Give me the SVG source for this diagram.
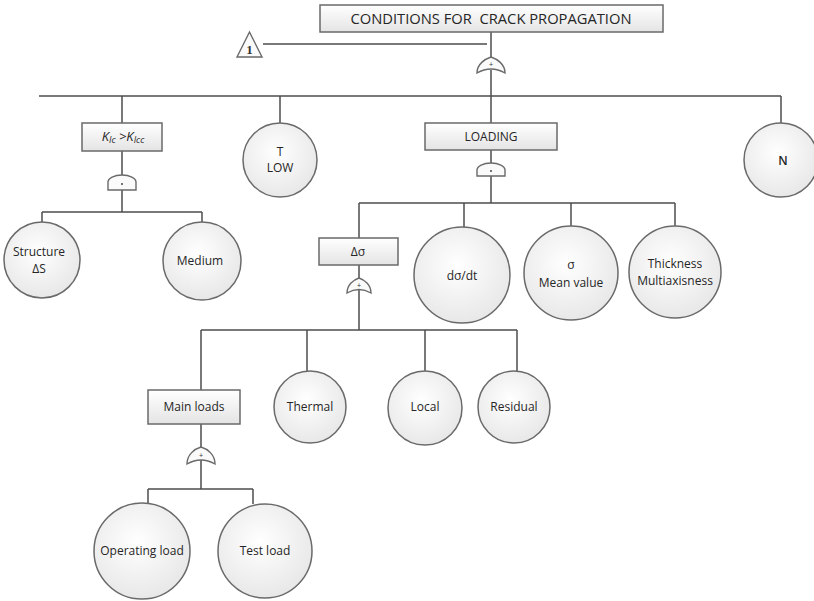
<svg xmlns="http://www.w3.org/2000/svg" width="814" height="601" viewBox="0 0 814 601">
<defs>
<linearGradient id="boxg" x1="0" y1="0" x2="0" y2="1">
<stop offset="0" stop-color="#ffffff"/><stop offset="1" stop-color="#e4e4e4"/>
</linearGradient>
<radialGradient id="circg" cx="0.45" cy="0.4" r="0.65">
<stop offset="0" stop-color="#ffffff"/><stop offset="1" stop-color="#e6e6e6"/>
</radialGradient>
<style>
.box{fill:url(#boxg);stroke:#6a6a6a;stroke-width:1.5}
.circ{fill:url(#circg);stroke:#6a6a6a;stroke-width:1.5}
.gate{fill:#fafafa;stroke:#6a6a6a;stroke-width:1.4}
.con{fill:none;stroke:#4d4d4d;stroke-width:1.5}
.t{font-family:"Open Sans","Liberation Sans",sans-serif;font-size:12px;fill:#262626;text-anchor:middle}
.g{font-family:"Liberation Sans",sans-serif;font-size:7px;fill:#333;text-anchor:middle}
</style>
</defs>
<rect width="814" height="601" fill="#ffffff"/>

<g id="connectors">
<path class="con" d="M491,32 V60 M491,70 V96 M263,44 H487"/>
<path class="con" d="M39,96 H781 M122,96 V123 M280,96 V123 M491,96 V123 M781,96 V123"/>
<path class="con" d="M122,151 V176 M122,188 V212 M42,212 H202 M42,212 V222 M202,212 V222"/>
<path class="con" d="M491,150 V163 M491,175 V203 M359,203 H675 M359,203 V238 M464,203 V227 M571,203 V226 M675,203 V226"/>
<path class="con" d="M359,265 V279 M359,290 V330 M201,330 H517 M201,330 V390 M307,330 V371 M425,330 V371 M517,330 V371"/>
<path class="con" d="M201,424 V448 M201,460 V489 M148,489 H253 M148,489 V503 M253,489 V504"/>
</g>

<g id="title">
<rect class="box" x="320" y="5" width="343" height="27"/>
<text class="t" x="491" y="24" style="font-size:15px" textLength="281" lengthAdjust="spacingAndGlyphs">CONDITIONS FOR&#160; CRACK PROPAGATION</text>
</g>
<g id="transfer1">
<polygon points="249.5,32 237,57 262,57" fill="#fafafa" stroke="#6a6a6a" stroke-width="1.4"/>
<text x="249.5" y="54" font-family="Liberation Serif,serif" font-size="13" font-weight="bold" fill="#333" text-anchor="middle">1</text>
</g>
<g id="gate-top">
<path class="gate" d="M477,73 C477,64 485,59 491,57 C497,59 505,64 505,73 Q491,65 477,73 Z"/>
<text class="g" x="491" y="67">+</text>
</g>

<g id="kic">
<rect class="box" x="82" y="123" width="80" height="28"/>
<text class="t" x="123" y="141" style="font-style:italic;font-size:13px">K<tspan font-size="9" dy="2">Ic</tspan><tspan dy="-2"> &gt;K</tspan><tspan font-size="9" dy="2">Icc</tspan></text>
</g>
<g id="gate-kic">
<path class="gate" d="M108,190 V182 A14,7 0 0 1 136,182 V190 Z"/>
<circle cx="122" cy="184" r="0.9" fill="#333"/>
</g>
<g id="structure">
<circle class="circ" cx="42" cy="260" r="38"/>
<text class="t" x="39" y="256">Structure</text>
<text class="t" x="39" y="273">ΔS</text>
</g>
<g id="medium">
<circle class="circ" cx="202" cy="261" r="39"/>
<text class="t" x="200" y="265">Medium</text>
</g>

<g id="tlow">
<circle class="circ" cx="280" cy="160" r="37"/>
<text class="t" x="280" y="156">T</text>
<text class="t" x="280" y="172">LOW</text>
</g>

<g id="loading">
<rect class="box" x="425" y="123" width="132" height="27"/>
<text class="t" x="491" y="141">LOADING</text>
</g>
<g id="gate-loading">
<path class="gate" d="M477,176 V170 A14,7 0 0 1 505,170 V176 Z"/>
<circle cx="491" cy="171" r="0.9" fill="#333"/>
</g>

<g id="n">
<circle class="circ" cx="781" cy="160" r="37"/>
<text class="t" x="783" y="165" style="font-weight:600">N</text>
</g>

<g id="dsigma">
<rect class="box" x="319" y="238" width="79" height="27"/>
<text class="t" x="358" y="256">Δσ</text>
</g>
<g id="gate-dsigma">
<path class="gate" d="M347,293 C347,285 353,280 359,278 C365,280 371,285 371,293 Q359,286 347,293 Z"/>
<text class="g" x="359" y="288">+</text>
</g>
<g id="dsdt">
<circle class="circ" cx="462" cy="275" r="48"/>
<text class="t" x="462" y="280">dσ/dt</text>
</g>
<g id="mean">
<circle class="circ" cx="571" cy="273" r="47"/>
<text class="t" x="571" y="269">σ</text>
<text class="t" x="571" y="287">Mean value</text>
</g>
<g id="thickness">
<circle class="circ" cx="675" cy="272" r="46"/>
<text class="t" x="675" y="268">Thickness</text>
<text class="t" x="675" y="285">Multiaxisness</text>
</g>

<g id="mainloads">
<rect class="box" x="148" y="390" width="92" height="34"/>
<text class="t" x="194" y="411">Main loads</text>
</g>
<g id="gate-main">
<path class="gate" d="M187,464 C187,455 194,449 201,447 C208,449 215,455 215,464 Q201,456 187,464 Z"/>
<text class="g" x="201" y="458">+</text>
</g>
<g id="thermal">
<circle class="circ" cx="310" cy="407" r="36"/>
<text class="t" x="310" y="411">Thermal</text>
</g>
<g id="local">
<circle class="circ" cx="425" cy="408" r="37"/>
<text class="t" x="425" y="411">Local</text>
</g>
<g id="residual">
<circle class="circ" cx="514" cy="407" r="36"/>
<text class="t" x="514" y="411">Residual</text>
</g>
<g id="operating">
<circle class="circ" cx="142" cy="551" r="48"/>
<text class="t" x="142" y="555">Operating load</text>
</g>
<g id="testload">
<circle class="circ" cx="265" cy="551" r="47"/>
<text class="t" x="265" y="555">Test load</text>
</g>
</svg>
